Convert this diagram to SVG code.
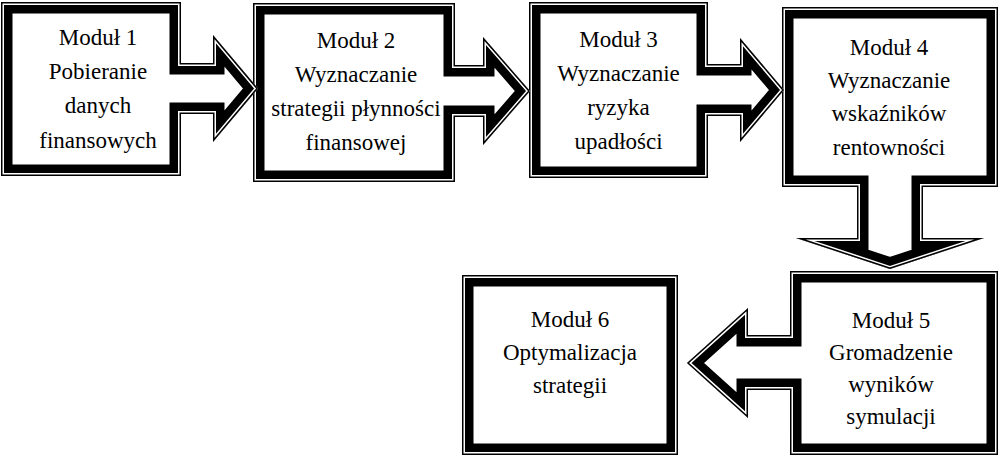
<svg xmlns="http://www.w3.org/2000/svg" xmlns:xlink="http://www.w3.org/1999/xlink" width="1000" height="457" viewBox="0 0 1000 457">
<style>
.bg{fill:#fff}
.thin{fill:none;stroke:#000;stroke-width:1.5}
.thick{fill:none;stroke:#000;stroke-width:8.5}
.wf{fill:#fff;stroke:none}
.s1{fill:none;stroke:#000;stroke-width:23;stroke-miterlimit:20}
.s2{fill:none;stroke:#fff;stroke-width:6;stroke-miterlimit:20}
.s3{fill:none;stroke:#000;stroke-width:3;stroke-miterlimit:20}
text{font-family:"Liberation Serif","Times New Roman",serif;font-size:23px;fill:#000;text-anchor:middle}
</style>
<defs>
<path id="u1" d="M1,2 H181 V63 H213 V35 L258,88.5 L213,142 V114 H181 V176 H1 Z"/>
<path id="u2" d="M253,3 H455 V65 H483 V37 L530,91 L483,145 V117 H455 V182 H253 Z"/>
<path id="u3" d="M529,2 H708 V64 H740 V38 L784,90 L740,142 V116 H708 V178 H529 Z"/>
<path id="u4" d="M782,7 H998 V187 H923 V238 H984 L890,269 L796,238 H857 V187 H782 Z"/>
<path id="u5" d="M790,271 H998 V455 H790 V390 H748 V418 L687,363 L748,308 V335 H790 Z"/>
<clipPath id="c1"><use xlink:href="#u1"/></clipPath>
<clipPath id="c2"><use xlink:href="#u2"/></clipPath>
<clipPath id="c3"><use xlink:href="#u3"/></clipPath>
<clipPath id="c4"><use xlink:href="#u4"/></clipPath>
<clipPath id="c5"><use xlink:href="#u5"/></clipPath>
<clipPath id="r1"><rect x="168" y="20" width="102" height="140"/></clipPath>
<clipPath id="r2"><rect x="442" y="20" width="102" height="145"/></clipPath>
<clipPath id="r3"><rect x="695" y="20" width="102" height="140"/></clipPath>
<clipPath id="r4"><rect x="785" y="174" width="210" height="100"/></clipPath>
<clipPath id="r5"><rect x="680" y="295" width="123" height="136"/></clipPath>
</defs>
<rect class="bg" x="0" y="0" width="1000" height="457"/>
<g id="node6">
<rect class="bg" x="462" y="275" width="216" height="180"/>
<rect class="thin" x="462.75" y="275.75" width="214.5" height="178.5"/>
<rect class="thick" x="469.25" y="282.25" width="201.5" height="165.5"/>
<text x="570" y="327">Moduł 6</text>
<text x="570" y="360">Optymalizacja</text>
<text x="570" y="393">strategii</text>
</g>
<g id="node5">
<rect class="bg" x="790" y="271" width="208" height="184"/>
<rect class="thin" x="790.75" y="271.75" width="206.5" height="182.5"/>
<rect class="thick" x="797.25" y="278.25" width="193.5" height="169.5"/>
<text x="891" y="328">Moduł 5</text>
<text x="891" y="360">Gromadzenie</text>
<text x="891" y="392">wyników</text>
<text x="891" y="424">symulacji</text>
</g>
<g id="node4">
<rect class="bg" x="782" y="7" width="216" height="180"/>
<rect class="thin" x="782.75" y="7.75" width="214.5" height="178.5"/>
<rect class="thick" x="789.25" y="14.25" width="201.5" height="165.5"/>
<text x="889" y="55">Moduł 4</text>
<text x="889" y="88">Wyznaczanie</text>
<text x="889" y="121">wskaźników</text>
<text x="889" y="155">rentowności</text>
</g>
<g id="node3">
<rect class="bg" x="529" y="2" width="179" height="176"/>
<rect class="thin" x="529.75" y="2.75" width="177.5" height="174.5"/>
<rect class="thick" x="536.25" y="9.25" width="164.5" height="161.5"/>
<text x="618.5" y="47">Moduł 3</text>
<text x="618.5" y="81">Wyznaczanie</text>
<text x="618.5" y="115">ryzyka</text>
<text x="618.5" y="149">upadłości</text>
</g>
<g id="node2">
<rect class="bg" x="253" y="3" width="202" height="179"/>
<rect class="thin" x="253.75" y="3.75" width="200.5" height="177.5"/>
<rect class="thick" x="260.25" y="10.25" width="187.5" height="164.5"/>
<text x="356" y="48">Moduł 2</text>
<text x="356" y="82">Wyznaczanie</text>
<text x="356" y="116">strategii płynności</text>
<text x="356" y="150">finansowej</text>
</g>
<g id="node1">
<rect class="bg" x="1" y="2" width="180" height="174"/>
<rect class="thin" x="1.75" y="2.75" width="178.5" height="172.5"/>
<rect class="thick" x="8.25" y="9.25" width="165.5" height="159.5"/>
<text x="98" y="45">Moduł 1</text>
<text x="98" y="79">Pobieranie</text>
<text x="98" y="113">danych</text>
<text x="98" y="148">finansowych</text>
</g>
<g id="connectors">
<g clip-path="url(#r5)"><g clip-path="url(#c5)"><use xlink:href="#u5" class="wf"/><use xlink:href="#u5" class="s1"/><use xlink:href="#u5" class="s2"/><use xlink:href="#u5" class="s3"/></g></g>
<g clip-path="url(#r4)"><g clip-path="url(#c4)"><use xlink:href="#u4" class="wf"/><use xlink:href="#u4" class="s1"/><use xlink:href="#u4" class="s2"/><use xlink:href="#u4" class="s3"/></g></g>
<g clip-path="url(#r3)"><g clip-path="url(#c3)"><use xlink:href="#u3" class="wf"/><use xlink:href="#u3" class="s1"/><use xlink:href="#u3" class="s2"/><use xlink:href="#u3" class="s3"/></g></g>
<g clip-path="url(#r2)"><g clip-path="url(#c2)"><use xlink:href="#u2" class="wf"/><use xlink:href="#u2" class="s1"/><use xlink:href="#u2" class="s2"/><use xlink:href="#u2" class="s3"/></g></g>
<g clip-path="url(#r1)"><g clip-path="url(#c1)"><use xlink:href="#u1" class="wf"/><use xlink:href="#u1" class="s1"/><use xlink:href="#u1" class="s2"/><use xlink:href="#u1" class="s3"/></g></g>
</g>
</svg>
